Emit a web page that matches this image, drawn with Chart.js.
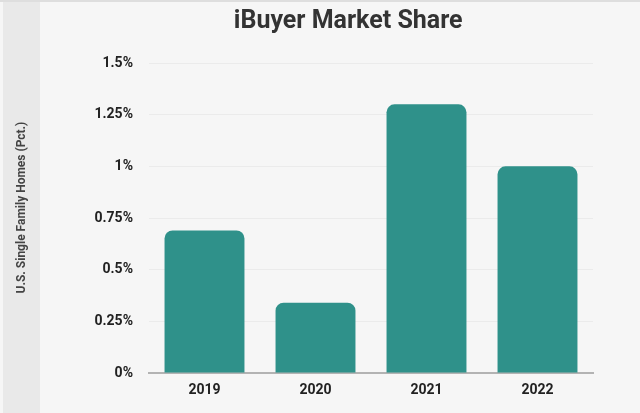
<!DOCTYPE html>
<html>
<head>
<meta charset="utf-8">
<script src="https://cdn.jsdelivr.net/npm/chart.js@4.4.1/dist/chart.umd.min.js"></script>
<style>
  html, body { margin: 0; padding: 0; background: #f6f6f6; }
  #wrap { position: relative; width: 640px; height: 413px; }
  #band { position: absolute; left: 3px; top: 0; width: 37px; height: 413px; background: #e9e9e9; z-index: 0; }
  #topline { position: absolute; left: 0; top: 0; width: 640px; height: 2px; background: #dedede; z-index: 0; }
  #chart { position: relative; z-index: 1; }
</style>
</head>
<body>
<div id="wrap">
  <div id="band"></div>
  <div id="topline"></div>
  <canvas id="chart" width="640" height="413"></canvas>
</div>
<script>
const years = ['2019', '2020', '2021', '2022'];
const shareValues = [0.69, 0.34, 1.3, 1.0];
const yTicks = [0, 0.25, 0.5, 0.75, 1, 1.25, 1.5];

// leading spaces nudge the centred texts to where the reference puts them
const chartTitle = '  iBuyer Market Share';
const yAxisTitle = '       U.S. Single Family Homes (Pct.)';

const ctx = document.getElementById('chart');
new Chart(ctx, {
    type: 'bar',
    data: {
        labels: years,
        datasets: [
            {
                label: 'iBuyer Market Share',
                data: shareValues,
                backgroundColor: '#2f918a',
                borderRadius: 8,
                borderSkipped: 'start',
                barPercentage: 0.8,
                categoryPercentage: 0.9,
            }
        ]
    },
    options: {
        responsive: false,
        animation: false,
        devicePixelRatio: 1,
        layout: { padding: { left: 44, right: 0, top: 0, bottom: 0 } },
        plugins: {
            legend: { display: false },
            tooltip: { enabled: false },
            title: {
                display: true,
                text: chartTitle,
                color: '#333333',
                font: { family: 'Roboto', size: 25, weight: 'bold', lineHeight: 1.2 },
                padding: { top: 7, bottom: 26 }
            }
        },
        scales: {
            x: {
                grid: { display: false, drawTicks: false },
                border: { display: true, color: '#b3b3b3', width: 2 },
                ticks: {
                    color: '#222222',
                    padding: 9,
                    font: { family: 'Roboto', size: 14, weight: 'bold' }
                },
                afterFit: function(scale) { scale.height = 40; }
            },
            y: {
                min: 0,
                max: 1.5,
                afterBuildTicks: function(scale) {
                    scale.ticks = yTicks.map(v => ({ value: v }));
                },
                grid: { color: '#ebebeb', drawTicks: false },
                border: { display: false },
                ticks: {
                    color: '#222222',
                    padding: 16,
                    font: { family: 'Roboto', size: 14, weight: 'bold' },
                    callback: function(v) { return v + '%'; }
                },
                title: {
                    display: true,
                    text: yAxisTitle,
                    color: '#444444',
                    font: { family: 'Roboto', size: 12, weight: 'bold', lineHeight: 1.2 },
                    padding: { top: -29, bottom: 0 }
                },
                afterFit: function(scale) { scale.width = 105; }
            },
            spacer: {
                position: 'right',
                display: true,
                grid: { display: false },
                border: { display: false },
                ticks: { display: false },
                afterFit: function(scale) { scale.width = 47; }
            }
        }
    }
});
</script>
</body>
</html>
